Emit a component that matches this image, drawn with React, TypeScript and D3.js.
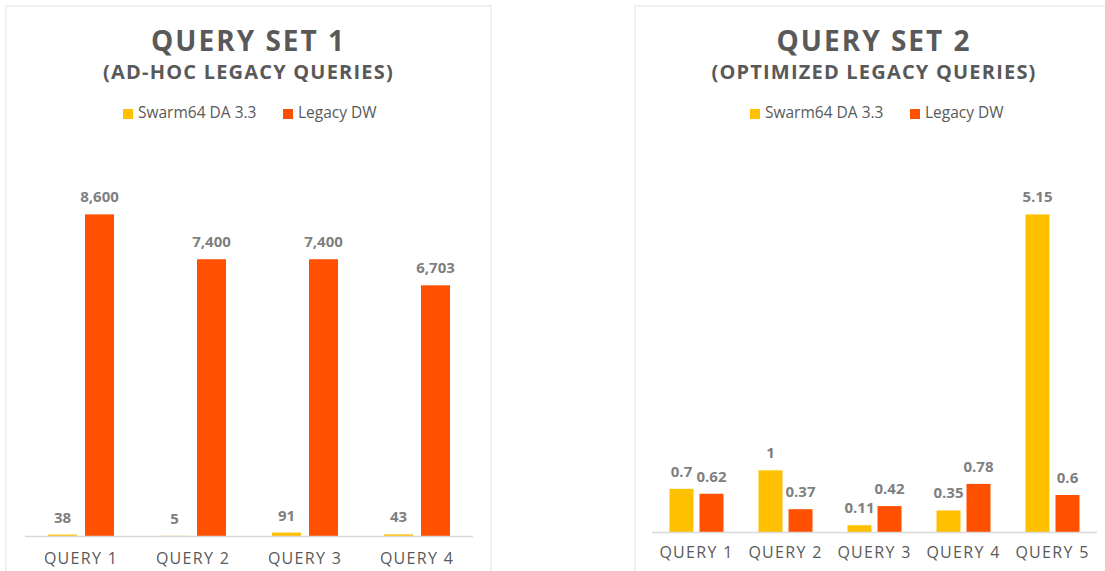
import React from "react";
import * as d3 from "d3";

const seriesNames = ["Swarm64 DA 3.3", "Legacy DW"];
const seriesColors = ["#FFC000", "#FF5000"];

const set1Categories = ["QUERY 1", "QUERY 2", "QUERY 3", "QUERY 4"];
const set1Swarm = [38, 5, 91, 43];
const set1Legacy = [8600, 7400, 7400, 6703];

const set2Categories = ["QUERY 1", "QUERY 2", "QUERY 3", "QUERY 4", "QUERY 5"];
const set2Swarm = [0.7, 1, 0.11, 0.35, 5.15];
const set2Legacy = [0.62, 0.37, 0.42, 0.78, 0.6];

const set1Title = "QUERY SET 1";
const set1Subtitle = "(AD-HOC LEGACY QUERIES)";
const set2Title = "QUERY SET 2";
const set2Subtitle = "(OPTIMIZED LEGACY QUERIES)";

type PanelProps = {
  x: number;
  width: number;
  title: string;
  subtitle: string;
  categories: string[];
  a: number[];
  b: number[];
  yMax: number;
  fmt: (v: number) => string;
  axisX0: number;
  axisX1: number;
  axisY: number;
  barW: number;
  gap: number;
  catBaseline: number;
  legendX: number;
  legendX2: number;
};

function Panel(p: PanelProps) {
  const xs = d3.scaleBand<string>().domain(p.categories).range([p.axisX0, p.axisX1]).padding(0);
  const ys = d3.scaleLinear().domain([0, p.yMax]).range([p.axisY, 162]);
  const cx = p.x + p.width / 2;
  const bars: any[] = [];
  p.categories.forEach((c, i) => {
    const center = (xs(c) as number) + xs.bandwidth() / 2;
    const vals = [p.a[i], p.b[i]];
    vals.forEach((v, j) => {
      const bx = j === 0 ? center - p.gap / 2 - p.barW : center + p.gap / 2;
      const top = ys(v);
      bars.push(
        <g key={c + j}>
          <rect x={bx} y={top} width={p.barW} height={p.axisY - top} fill={seriesColors[j]} />
          <text
            x={bx + p.barW / 2}
            y={top - 12}
            textAnchor="middle"
            fontFamily="'Open Sans', sans-serif"
            fontWeight={700}
            fontSize={15}
            fill="#7F7F7F"
          >
            {p.fmt(v)}
          </text>
        </g>
      );
    });
  });
  return (
    <g>
      <rect x={p.x} y={6} width={p.width} height={600} fill="#fff" stroke="#EBEBEB" strokeWidth={1.5} />
      <text x={cx} y={51} textAnchor="middle" fontFamily="'Open Sans', sans-serif" fontWeight={700} fontSize={28} letterSpacing={2} fill="#595959">
        {p.title}
      </text>
      <text x={cx} y={79} textAnchor="middle" fontFamily="'Open Sans', sans-serif" fontWeight={700} fontSize={20} letterSpacing={1.2} fill="#595959">
        {p.subtitle}
      </text>
      {seriesNames.map((s, j) => {
        const lx = j === 0 ? p.legendX : p.legendX2;
        return (
          <g key={s}>
            <rect x={lx} y={109} width={10} height={10} fill={seriesColors[j]} />
            <text x={lx + 15} y={118} fontFamily="'Open Sans', sans-serif" fontSize={15.5} fill="#595959">
              {s}
            </text>
          </g>
        );
      })}
      {bars}
      <line x1={p.axisX0} x2={p.axisX1} y1={p.axisY + 0.5} y2={p.axisY + 0.5} stroke="#D9D9D9" strokeWidth={1.5} />
      {p.categories.map((c) => (
        <text
          key={c}
          x={(xs(c) as number) + xs.bandwidth() / 2}
          y={p.catBaseline}
          textAnchor="middle"
          fontFamily="'Open Sans', sans-serif"
          fontSize={16}
          letterSpacing={1.3}
          fill="#595959"
        >
          {c}
        </text>
      ))}
    </g>
  );
}

export default function App() {
  const fmt1 = d3.format(",");
  const fmt2 = (v: number) => String(v);
  return (
    <svg width={1105} height={571} style={{ position: "absolute", left: 0, top: 0, background: "#fff" }}>
      <rect x={0} y={0} width={1105} height={571} fill="#fff" />
      <Panel
        x={6}
        width={485}
        title={set1Title}
        subtitle={set1Subtitle}
        categories={set1Categories}
        a={set1Swarm}
        b={set1Legacy}
        yMax={10000}
        fmt={fmt1}
        axisX0={25}
        axisX1={473}
        axisY={536}
        barW={29}
        gap={8}
        catBaseline={564}
        legendX={123}
        legendX2={283}
      />
      <Panel
        x={635}
        width={478}
        title={set2Title}
        subtitle={set2Subtitle}
        categories={set2Categories}
        a={set2Swarm}
        b={set2Legacy}
        yMax={6}
        fmt={fmt2}
        axisX0={652}
        axisX1={1097}
        axisY={532}
        barW={24}
        gap={6}
        catBaseline={558}
        legendX={750}
        legendX2={910}
      />
    </svg>
  );
}
